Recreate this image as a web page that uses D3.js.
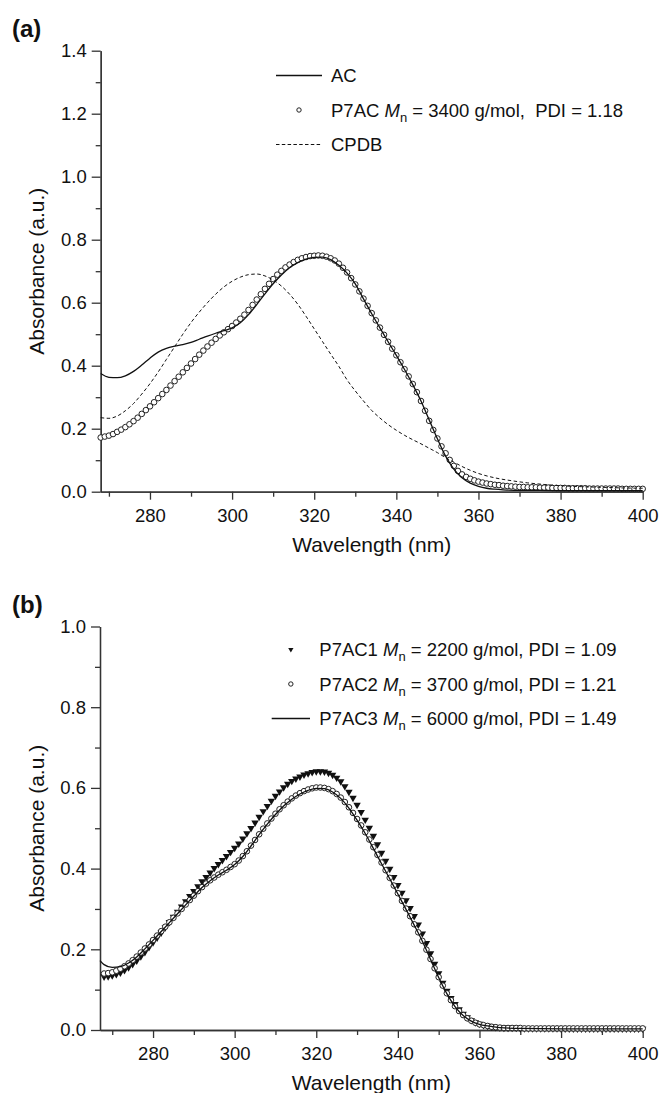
<!DOCTYPE html>
<html>
<head>
<meta charset="utf-8">
<script src="https://cdnjs.cloudflare.com/ajax/libs/d3/7.8.5/d3.min.js"></script>
<style>
	body { margin: 0; background: #fff; }
	svg { display: block; font-family: "Liberation Sans", Arial, sans-serif; }
	text { white-space: pre; }
</style>
</head>
<body>
<div id="chart"></div>
<script>
/*=================================
	DATA
**===============================*/

// panel (a) - absorbance
var p7acWl = d3.range(268, 401); // one circle per nm
var p7acAbs = [
	0.172,0.175,0.178,0.183,0.19,0.197,0.205,0.214,0.224,0.235,
	0.247,0.259,0.271,0.284,0.297,0.31,0.323,0.337,0.351,0.365,
	0.379,0.393,0.407,0.421,0.435,0.448,0.461,0.473,0.485,0.496,
	0.506,0.516,0.526,0.537,0.549,0.562,0.577,0.593,0.61,0.627,
	0.644,0.66,0.675,0.689,0.701,0.712,0.721,0.729,0.736,0.741,
	0.745,0.748,0.749,0.75,0.749,0.746,0.741,0.734,0.724,0.711,
	0.696,0.678,0.658,0.636,0.613,0.59,0.567,0.544,0.521,0.498,
	0.476,0.454,0.433,0.411,0.389,0.366,0.342,0.316,0.288,0.257,
	0.225,0.196,0.169,0.144,0.122,0.101,0.082,0.066,0.055,0.047,
	0.041,0.036,0.032,0.029,0.026,0.024,0.022,0.021,0.019,0.018,
	0.017,0.016,0.015,0.015,0.014,0.014,0.014,0.013,0.013,0.013,
	0.012,0.012,0.012,0.012,0.011,0.011,0.011,0.011,0.011,0.01,
	0.01,0.01,0.01,0.01,0.01,0.01,0.01,0.009,0.009,0.009,
	0.009,0.009,0.009
];

var acWl = [268,270,272,274,276,278,280,282,284,286,288,290,292,294,296,298,300,302,304,306,
	308,310,312,314,316,318,320,322,324,326,328,330,332,334,336,338,340,342,344,346,
	348,350,352,354,356,358,360,362,364,366,370,375,380,390,400];
var acAbs = [0.375,0.363,0.362,0.368,0.382,0.402,0.424,0.443,0.455,0.462,0.467,0.474,0.484,0.494,0.503,0.511,0.52,0.536,0.562,0.594,
	0.628,0.66,0.688,0.711,0.727,0.738,0.744,0.745,0.737,0.719,0.694,0.66,0.612,0.565,0.52,0.476,0.433,0.388,0.34,0.288,
	0.228,0.168,0.113,0.072,0.044,0.027,0.017,0.011,0.008,0.006,0.004,0.004,0.003,0.003,0.003];

var cpdbWl = [268,270,272,274,276,278,280,282,284,286,288,290,292,294,296,298,300,302,304,306,
	308,310,312,314,316,318,320,322,324,326,328,330,332,334,336,338,340,342,344,346,
	348,350,352,354,356,358,360,364,368,372,376,380,385,390,395,400];
var cpdbAbs = [0.235,0.233,0.24,0.257,0.28,0.31,0.343,0.38,0.42,0.46,0.5,0.537,0.57,0.6,0.627,0.65,0.668,0.681,0.689,0.691,
	0.685,0.672,0.653,0.627,0.595,0.557,0.517,0.477,0.437,0.398,0.355,0.32,0.288,0.258,0.234,0.213,0.195,0.179,0.165,0.152,
	0.138,0.124,0.108,0.094,0.08,0.068,0.058,0.044,0.035,0.028,0.023,0.019,0.016,0.014,0.012,0.011];

// panel (b)
var bWl = d3.range(268, 401);
var p7ac1Abs = [
	0.132,0.133,0.135,0.138,0.142,0.148,0.155,0.163,0.172,0.182,
	0.193,0.205,0.217,0.229,0.241,0.254,0.267,0.28,0.293,0.306,
	0.319,0.332,0.344,0.356,0.368,0.379,0.39,0.401,0.411,0.421,
	0.431,0.441,0.451,0.462,0.474,0.487,0.5,0.514,0.528,0.542,
	0.555,0.568,0.58,0.591,0.601,0.61,0.617,0.623,0.628,0.633,
	0.636,0.639,0.641,0.641,0.64,0.637,0.632,0.625,0.616,0.604,
	0.59,0.575,0.558,0.54,0.521,0.501,0.481,0.46,0.439,0.419,
	0.399,0.379,0.359,0.34,0.321,0.302,0.282,0.261,0.239,0.215,
	0.19,0.164,0.14,0.117,0.097,0.079,0.064,0.051,0.04,0.031,
	0.024,0.019,0.015,0.012,0.01,0.008,0.007,0.006,0.005,0.005,
	0.005,0.005,0.004,0.004,0.004,0.004,0.004,0.004,0.004,0.004,
	0.004,0.004,0.003,0.003,0.003,0.003,0.003,0.003,0.003,0.003,
	0.003,0.003,0.003,0.003,0.003,0.003,0.003,0.003,0.003,0.003,
	0.003,0.003,0.003
];
var p7ac2Abs = [
	0.14,0.141,0.143,0.147,0.152,0.158,0.165,0.173,0.182,0.192,
	0.202,0.212,0.223,0.234,0.245,0.256,0.267,0.278,0.289,0.3,
	0.311,0.322,0.333,0.344,0.354,0.363,0.371,0.378,0.385,0.391,
	0.397,0.404,0.411,0.42,0.431,0.443,0.457,0.471,0.485,0.499,
	0.512,0.524,0.536,0.547,0.557,0.566,0.574,0.581,0.587,0.592,
	0.596,0.599,0.601,0.601,0.6,0.597,0.592,0.585,0.576,0.565,
	0.552,0.538,0.523,0.507,0.49,0.472,0.453,0.434,0.415,0.396,
	0.377,0.358,0.339,0.32,0.301,0.282,0.262,0.242,0.221,0.199,
	0.176,0.153,0.131,0.11,0.091,0.074,0.059,0.047,0.037,0.029,
	0.023,0.018,0.014,0.012,0.01,0.008,0.007,0.006,0.005,0.005,
	0.005,0.005,0.005,0.004,0.004,0.004,0.004,0.004,0.004,0.004,
	0.004,0.004,0.004,0.004,0.004,0.004,0.004,0.004,0.004,0.004,
	0.004,0.004,0.004,0.004,0.004,0.004,0.004,0.004,0.004,0.004,
	0.004,0.004,0.004
];
var p7ac3Wl = [267,268,270,272,274,276,278,280,282,284,286,288,290,292,294,296,298,300,302,304,
	306,308,310,312,314,316,318,320,322,324,326,328,330,332,334,336,338,340,342,344,
	346,348,350,352,354,356,358,360,362,365,370,380,390,400];
var p7ac3Abs = [0.172,0.162,0.155,0.157,0.166,0.181,0.201,0.222,0.244,0.266,0.288,0.31,0.332,0.353,0.37,0.384,0.396,0.41,0.43,0.456,
	0.484,0.51,0.534,0.555,0.572,0.585,0.594,0.599,0.598,0.59,0.574,0.55,0.52,0.487,0.45,0.412,0.375,0.337,0.299,0.26,
	0.22,0.175,0.13,0.09,0.058,0.036,0.022,0.014,0.01,0.006,0.004,0.003,0.003,0.003];

// ticks
var xMajor = [280, 300, 320, 340, 360, 380, 400];
var xMinor = [270, 290, 310, 330, 350, 370, 390];
var yMajorA = [0, 0.2, 0.4, 0.6, 0.8, 1.0, 1.2, 1.4];
var yMinorA = [0.1, 0.3, 0.5, 0.7, 0.9, 1.1, 1.3];
var yMajorB = [0, 0.2, 0.4, 0.6, 0.8, 1.0];
var yMinorB = [0.1, 0.3, 0.5, 0.7, 0.9];

/*=================================
	SETUP
**===============================*/

var W = 660, H = 1093;
var ink = "#111", axisInk = "#333";

var svg = d3.select("#chart").append("svg")
	.attr("width", W)
	.attr("height", H);

function zip(wl, ab) {
	return wl.map(function(w, i) { return [w, ab[i]]; });
}

/*=================================
	PANEL DRAWING
**===============================*/

function drawPanel(cfg) {
	var x = d3.scaleLinear().domain(cfg.xDomain).range([cfg.left, cfg.right]);
	var y = d3.scaleLinear().domain(cfg.yDomain).range([cfg.bottom, cfg.top]);
	var g = svg.append("g");

	// minor ticks first, then major
	g.append("g").attr("transform", "translate(0," + cfg.bottom + ")")
		.call(d3.axisBottom(x).tickValues(xMinor).tickSize(5).tickSizeOuter(0).tickFormat(""));
	g.append("g").attr("transform", "translate(" + cfg.left + ",0)")
		.call(d3.axisLeft(y).tickValues(cfg.yMinor).tickSize(5).tickSizeOuter(0).tickFormat(""));

	g.append("g").attr("class", "xax").attr("transform", "translate(0," + cfg.bottom + ")")
		.call(d3.axisBottom(x).tickValues(xMajor).tickSize(8).tickSizeOuter(0).tickPadding(9).tickFormat(d3.format("d")));
	g.append("g").attr("class", "yax").attr("transform", "translate(" + cfg.left + ",0)")
		.call(d3.axisLeft(y).tickValues(cfg.yMajor).tickSize(9).tickSizeOuter(0).tickPadding(5).tickFormat(d3.format(".1f")));

	g.selectAll(".domain, .tick line").attr("stroke", axisInk).attr("stroke-width", 1.3);
	g.selectAll(".tick text").attr("fill", ink).style("font-size", "18.5px").style("font-family", "'Liberation Sans', Arial, sans-serif");

	// axis titles
	g.append("text")
		.attr("x", (cfg.left + cfg.right) / 2).attr("y", cfg.bottom + 60)
		.attr("text-anchor", "middle").attr("fill", ink).style("font-size", "21px")
		.text("Wavelength (nm)");
	g.append("text")
		.attr("transform", "translate(44," + (cfg.bottom + cfg.top) / 2 + ") rotate(-90)")
		.attr("text-anchor", "middle").attr("fill", ink).style("font-size", "21px")
		.text("Absorbance (a.u.)");

	// panel letter
	g.append("text").attr("x", 12).attr("y", cfg.top - 14)
		.attr("fill", ink).style("font-size", "24px").style("font-weight", "bold")
		.text(cfg.letter);

	var line = d3.line()
		.x(function(d) { return x(d[0]); })
		.y(function(d) { return y(d[1]); })
		.curve(d3.curveMonotoneX);

	cfg.series.forEach(function(s) {
		var pts = zip(s.wl, s.abs);
		if (s.type == "circle") {
			g.append("g").selectAll("circle").data(pts).enter().append("circle")
				.attr("cx", function(d) { return x(d[0]); })
				.attr("cy", function(d) { return y(d[1]); })
				.attr("r", 2.8)
				.attr("fill", "#fff").attr("stroke", "#222").attr("stroke-width", 1);
		} else if (s.type == "tri") {
			var tri = d3.symbol().type(d3.symbolTriangle).size(24);
			g.append("g").selectAll("path").data(pts).enter().append("path")
				.attr("d", tri)
				.attr("transform", function(d) { return "translate(" + x(d[0]) + "," + y(d[1]) + ") rotate(180)"; })
				.attr("fill", "#111");
		} else {
			g.append("path").datum(pts)
				.attr("d", line)
				.attr("fill", "none").attr("stroke", "#111").attr("stroke-width", s.dash ? 1 : 1.3)
				.attr("stroke-dasharray", s.dash ? "3.5,2.5" : null);
		}
	});

	// legend
	cfg.legend.forEach(function(l, i) {
		var cy = cfg.legY + i * cfg.legStep;
		var lx0 = cfg.legLine[0], lx1 = cfg.legLine[1], mx = (lx0 + lx1) / 2;
		if (l.type == "circle") {
			g.append("circle").attr("cx", mx).attr("cy", cy).attr("r", 2.2)
				.attr("fill", "#fff").attr("stroke", "#222").attr("stroke-width", 1);
		} else if (l.type == "tri") {
			g.append("path").attr("d", d3.symbol().type(d3.symbolTriangle).size(12))
				.attr("transform", "translate(" + mx + "," + cy + ") rotate(180)").attr("fill", "#111");
		} else {
			g.append("line").attr("x1", lx0).attr("x2", lx1).attr("y1", cy).attr("y2", cy)
				.attr("stroke", "#111").attr("stroke-width", l.dash ? 1 : 1.3)
				.attr("stroke-dasharray", l.dash ? "3.5,2.3" : null);
		}
		var t = g.append("text").attr("x", cfg.legX).attr("y", cy + 6.5)
			.attr("fill", ink).style("font-size", "18.5px");
		if (l.mn) {
			t.append("tspan").text(l.name + " ");
			t.append("tspan").style("font-style", "italic").text("M");
			t.append("tspan").attr("dy", 5).style("font-size", "13px").text("n");
			t.append("tspan").attr("dy", -5).text(" = " + l.mn);
		} else {
			t.text(l.name);
		}
	});
}

/*=================================
	PANEL (a)
**===============================*/

drawPanel({
	letter: "(a)",
	xDomain: [268, 400], yDomain: [0, 1.4],
	left: 100.7, right: 642.7, top: 50.7, bottom: 491.7,
	yMajor: yMajorA, yMinor: yMinorA,
	series: [
		{type: "circle", wl: p7acWl, abs: p7acAbs},
		{type: "line", wl: cpdbWl, abs: cpdbAbs, dash: true},
		{type: "line", wl: acWl, abs: acAbs}
	],
	legX: 331, legY: 75.5, legStep: 34.5, legLine: [276, 322],
	legend: [
		{type: "line", name: "AC"},
		{type: "circle", name: "P7AC", mn: "3400 g/mol,  PDI = 1.18"},
		{type: "line", dash: true, name: "CPDB"}
	]
});

/*=================================
	PANEL (b)
**===============================*/

drawPanel({
	letter: "(b)",
	xDomain: [267, 400], yDomain: [0, 1.0],
	left: 100, right: 642.7, top: 626.5, bottom: 1030,
	yMajor: yMajorB, yMinor: yMinorB,
	series: [
		{type: "tri", wl: bWl, abs: p7ac1Abs},
		{type: "circle", wl: bWl, abs: p7ac2Abs},
		{type: "line", wl: p7ac3Wl, abs: p7ac3Abs}
	],
	legX: 319.3, legY: 649.5, legStep: 34.5, legLine: [271.7, 310],
	legend: [
		{type: "tri", name: "P7AC1", mn: "2200 g/mol, PDI = 1.09"},
		{type: "circle", name: "P7AC2", mn: "3700 g/mol, PDI = 1.21"},
		{type: "line", name: "P7AC3", mn: "6000 g/mol, PDI = 1.49"}
	]
});
</script>
</body>
</html>
